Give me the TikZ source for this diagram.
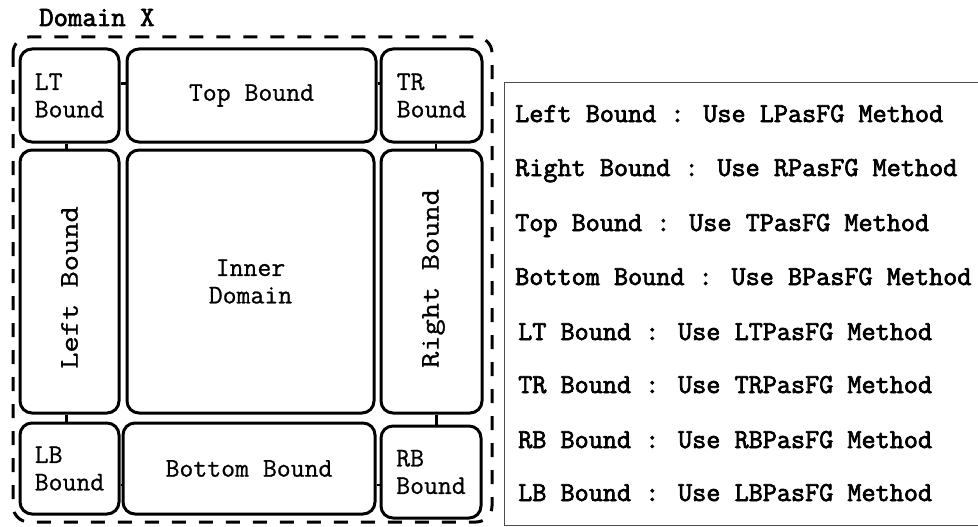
\documentclass[tikz,border=0pt]{standalone}
\usepackage{fontspec}
\newfontfamily\boldmono[FakeBold=2.5]{Latin Modern Mono}
\newfontfamily\medmono[FakeBold=0.8]{Latin Modern Mono}
\begin{document}
\begin{tikzpicture}[x=1pt,y=-1pt,
  bx/.style={draw, line width=3pt, rounded corners=12pt, inner sep=0pt, align=left,
    font=\medmono\fontsize{27}{27.5}\selectfont},
  rotlbl/.style={rotate=90, inner sep=0pt, font=\medmono\fontsize{27}{27.5}\selectfont},
  conn/.style={line width=2.2pt},
  legtxt/.style={anchor=base west, inner sep=0pt, font=\boldmono\fontsize{27.4}{28}\selectfont}]
\useasboundingbox (0,0) rectangle (978,527);
% outer dashed domain
\draw[line width=3pt, dash pattern=on 14pt off 13pt, rounded corners=16pt] (13,37) rectangle (492,522);
\node[anchor=base west, inner sep=0pt, font=\boldmono\fontsize{28}{28}\selectfont] (dx) at (39,26) {Domain X};
% boxes
\node[bx, minimum width=99pt, minimum height=93pt] (lt) at (69.5,95.5) {LT\\Bound};
\node[bx, minimum width=249pt, minimum height=93pt] (top) at (251.5,95.5) {Top Bound};
\node[bx, minimum width=101pt, minimum height=93pt] (tr) at (431.5,95.5) {TR\\Bound};
\node[bx, minimum width=99pt, minimum height=263pt] (left) at (69.5,281.5) {};
\node[rotlbl] (leftl) at ([yshift=-6pt]left.center) {\scalebox{1.17}[1]{Left Bound}};
\node[bx, minimum width=247pt, minimum height=263pt, align=center] (inner) at (250.5,281.5) {Inner\\Domain};
\node[bx, minimum width=101pt, minimum height=263pt] (right) at (431.5,281.5) {};
\node[rotlbl] (rightl) at ([xshift=2pt,yshift=3pt]right.center) {\scalebox{1.17}[1]{Right Bound}};
\node[bx, minimum width=99pt, minimum height=91pt] (lb) at (69.5,468.5) {LB\\Bound};
\node[bx, minimum width=252pt, minimum height=91pt] (bottom) at (249,468.5) {Bottom Bound};
\node[bx, minimum width=100pt, minimum height=92pt] (rb) at (431,472) {RB\\Bound};
% connectors
\draw[conn] ([yshift=12pt]lt.east) -- ([yshift=12pt]lt.east -| top.west);
\draw[conn] ([yshift=12pt]top.east) -- ([yshift=12pt]top.east -| tr.west);
\draw[conn] ([xshift=-3pt]lt.south) -- ([xshift=-3pt]lt.south |- left.north);
\draw[conn] ([xshift=4.5pt]tr.south) -- ([xshift=4.5pt]tr.south |- right.north);
\draw[conn] ([xshift=-3pt]left.south) -- ([xshift=-3pt]left.south |- lb.north);
\draw[conn] ([xshift=5pt]right.south) -- ([xshift=5pt]right.south |- rb.north);
\draw[conn] ([yshift=-16.5pt]lb.east) -- ([yshift=-16.5pt]lb.east -| bottom.west);
\draw[conn] ([yshift=-16.5pt]bottom.east) -- ([yshift=-16.5pt]bottom.east -| rb.west);
% legend
\draw[line width=1pt, draw=black!70] (504,83) rectangle (990,525);
\node[legtxt] (l1) at (515,122) {Left Bound : Use LPasFG Method};
\node[legtxt] (l2) at (515,176) {Right Bound : Use RPasFG Method};
\node[legtxt] (l3) at (515,231) {Top Bound : Use TPasFG Method};
\node[legtxt] (l4) at (515,285) {Bottom Bound : Use BPasFG Method};
\node[legtxt] (l5) at (518,340) {LT Bound : Use LTPasFG Method};
\node[legtxt] (l6) at (518,393) {TR Bound : Use TRPasFG Method};
\node[legtxt] (l7) at (518,448) {RB Bound : Use RBPasFG Method};
\node[legtxt] (l8) at (518,501) {LB Bound : Use LBPasFG Method};
\end{tikzpicture}
\end{document}
